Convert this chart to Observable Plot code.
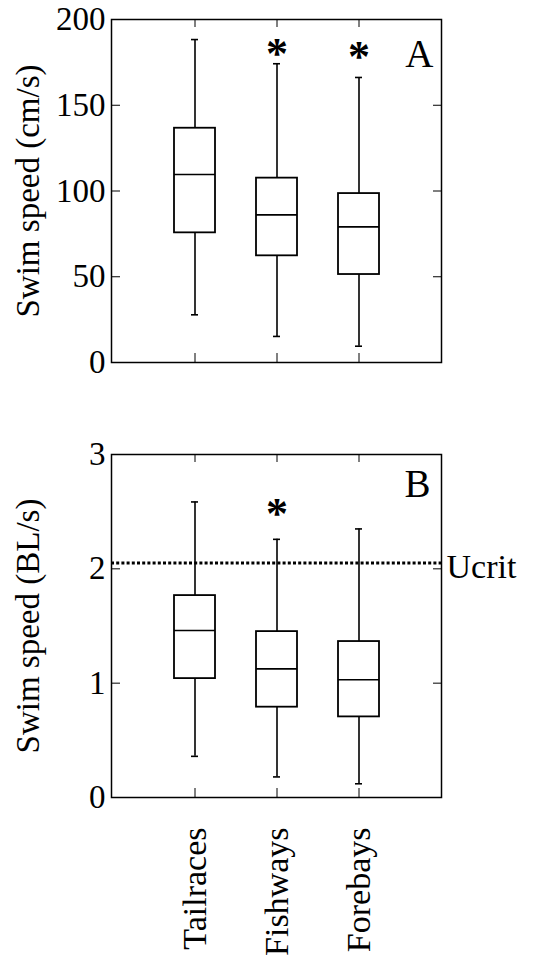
<!DOCTYPE html>
<html>
<head>
<meta charset="utf-8">
<script src="https://cdn.jsdelivr.net/npm/d3@7"></script>
<script src="https://cdn.jsdelivr.net/npm/@observablehq/plot@0.6"></script>
<style>
  html, body { margin: 0; padding: 0; background: white; }
  #chart svg { display: block; }
</style>
</head>
<body>
<div id="chart"></div>
<script>
// Categories
const categories = ["Tailraces", "Fishways", "Forebays"];

// Panel A: swim speed (cm/s)
const cmLow    = [27.8, 15.2, 9.5];
const cmQ1     = [75.6, 62.2, 51.3];
const cmMedian = [109.6, 86.1, 79.1];
const cmQ3     = [136.6, 107.5, 98.5];
const cmHigh   = [188.3, 174.2, 166.2];
const cmTicks  = [0, 50, 100, 150, 200];
const cmStarCats = ["Fishways", "Forebays"];
const cmStarVals = [183, 181];

// Panel B: swim speed (BL/s)
const blLow    = [0.36, 0.18, 0.12];
const blQ1     = [1.04, 0.79, 0.705];
const blMedian = [1.46, 1.125, 1.03];
const blQ3     = [1.766, 1.451, 1.364];
const blHigh   = [2.585, 2.258, 2.349];
const blTicks  = [0, 1, 2, 3];
const blStarCats = ["Fishways"];
const blStarVals = [2.52];
const ucrit = [2.05];

const FONT = "Liberation Serif";

const rowsOf = (low, q1, med, q3, high) =>
  categories.map((cat, i) => ({cat, low: low[i], q1: q1[i], median: med[i], q3: q3[i], high: high[i]}));
const starsOf = (cats, vals) => cats.map((cat, i) => ({cat, value: vals[i]}));

function panel({rows, yDomain, yTicks, label, letter, letterDx, letterDy, height, marginTop, marginBottom, stars, showX, ucritLine}) {
  const marks = [
    Plot.ruleX(rows, {x: "cat", y1: "low", y2: "high", strokeWidth: 1.6}),
    Plot.barY(rows, {x: "cat", y1: "q1", y2: "q3", fill: "white", stroke: "black", strokeWidth: 1.8}),
    Plot.tickY(rows, {x: "cat", y: "median", strokeWidth: 1.6}),
    Plot.tickY(rows, {x: "cat", y: "low", insetLeft: 17, insetRight: 17, strokeWidth: 1.6}),
    Plot.tickY(rows, {x: "cat", y: "high", insetLeft: 17, insetRight: 17, strokeWidth: 1.6}),
    Plot.text(stars, {x: "cat", y: "value", text: () => "*", fontFamily: FONT, fontSize: 44, fontWeight: "bold", dy: 5}),
    Plot.text([letter], {text: d => d, frameAnchor: "top-right", textAnchor: "end", lineAnchor: "top", dx: letterDx, dy: letterDy, fontFamily: FONT, fontSize: 39}),
    Plot.frame({strokeWidth: 1.5}),
    Plot.axisY({ticks: yTicks, tickSize: 0, tickPadding: 6, tickFormat: d => String(d), label, labelAnchor: "center", labelOffset: 96, labelArrow: "none", fontFamily: FONT, fontSize: 33}),
    Plot.axisY({ticks: yTicks, tickSize: -9, fill: "none", label: null}),
    Plot.axisY({anchor: "right", ticks: yTicks, tickSize: -9, fill: "none", label: null}),
    Plot.axisX({anchor: "top", tickSize: -7, fill: "none", label: null}),
    Plot.axisX({anchor: "bottom", tickSize: -9, fill: "none", label: null})
  ];
  if (ucritLine) {
    marks.push(Plot.ruleY(ucritLine, {y: d => d, strokeWidth: 3, strokeDasharray: "3,2.2"}));
    marks.push(Plot.text(ucritLine, {y: d => d, text: () => "Ucrit", frameAnchor: "right", textAnchor: "start", dx: 5, dy: 4, fontFamily: FONT, fontSize: 34}));
  }
  if (showX) {
    marks.push(Plot.axisX({anchor: "bottom", tickSize: 0, tickRotate: -90, tickPadding: 30, label: null, fontFamily: FONT, fontSize: 34}));
  }
  const svg = Plot.plot({
    width: 545,
    height,
    marginTop,
    marginBottom,
    marginLeft: 111,
    marginRight: 104,
    style: {background: "white", color: "black", overflow: "visible"},
    x: {type: "band", domain: categories, paddingInner: 0.506, paddingOuter: 0.753},
    y: {domain: yDomain},
    marks
  });
  svg.setAttribute("font-family", FONT);
  return svg;
}

const chart = document.getElementById("chart");
chart.append(panel({
  rows: rowsOf(cmLow, cmQ1, cmMedian, cmQ3, cmHigh),
  yDomain: [0, 200], yTicks: cmTicks,
  label: "Swim speed (cm/s)", letter: "A", letterDx: -8, letterDy: 20,
  height: 420, marginTop: 19, marginBottom: 58,
  stars: starsOf(cmStarCats, cmStarVals), showX: false
}));
chart.append(panel({
  rows: rowsOf(blLow, blQ1, blMedian, blQ3, blHigh),
  yDomain: [0, 3], yTicks: blTicks,
  label: "Swim speed (BL/s)", letter: "B", letterDx: -11, letterDy: 15,
  height: 545, marginTop: 34, marginBottom: 168,
  stars: starsOf(blStarCats, blStarVals), showX: true, ucritLine: ucrit
}));
</script>
</body>
</html>
